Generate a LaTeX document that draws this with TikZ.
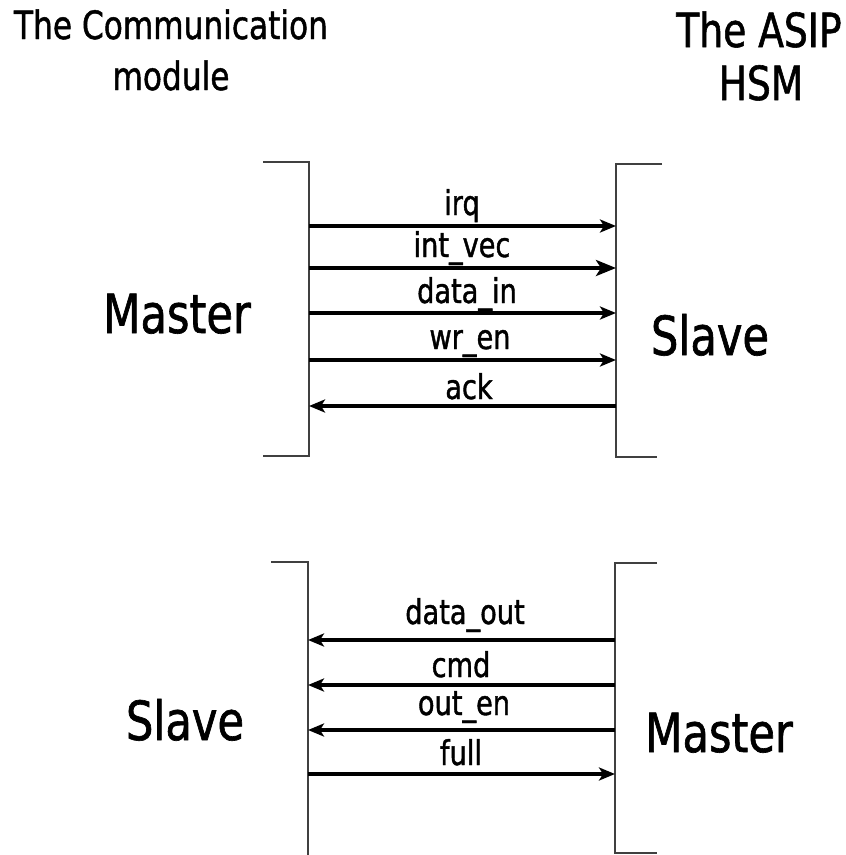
\documentclass[tikz,border=0pt]{standalone}
\usepackage{fontspec}
\setmainfont{DejaVu Sans}[FakeStretch=0.8, FakeBold=1.2]
\usetikzlibrary{arrows.meta}
\begin{document}
\begin{tikzpicture}[x=1pt, y=-1pt,
  txt/.style={inner sep=0pt, anchor=base},
  title/.style={txt, font=\fontsize{39}{42}\selectfont},
  titleb/.style={txt, font=\fontsize{47}{50}\selectfont},
  role/.style={txt, font=\fontsize{54}{58}\selectfont},
  sig/.style={txt, font=\fontsize{34}{38}\selectfont},
  bracket/.style={draw=black!75, line width=1.6pt},
  wire/.style={draw=black, line width=3.2pt, -{Stealth[length=16pt, width=13pt, inset=4pt]}},
  wirebold/.style={draw=black, line width=4.2pt, -{Stealth[length=20pt, width=16pt, inset=5pt]}}]
\useasboundingbox (0,0) rectangle (846,855);

% column titles
\node[title]  (tl1) at (171,39)  {The Communication};
\node[title]  (tl2) at (171,90)  {module};
\node[titleb] (tr1) at (759,47)  {The ASIP};
\node[titleb] (tr2) at (761,100) {HSM};

% ---- upper interface: communication module is master ----
\coordinate (a1) at (263,162); \coordinate (a2) at (309,162);
\coordinate (a3) at (309,456); \coordinate (a4) at (263,456);
\coordinate (b1) at (662,164); \coordinate (b2) at (616,164);
\coordinate (b3) at (616,457); \coordinate (b4) at (657,457);
\draw[bracket] (a1) -- (a2) -- (a3) -- (a4);
\draw[bracket] (b1) -- (b2) -- (b3) -- (b4);

\node[role] (m1) at (177,333) {Master};
\node[role] (s1) at (710,355) {Slave};

\foreach \n/\y in {irq/226, ivec/268, din/313, wren/360, ack/406}{
  \coordinate (L\n) at (309,\y);
  \coordinate (R\n) at (616,\y);
}
\draw[wire]     (Lirq)  -- (Rirq);
\draw[wirebold] (Livec) -- (Rivec);
\draw[wire]     (Ldin)  -- (Rdin);
\draw[wire]     (Lwren) -- (Rwren);
\draw[wire]     (Rack)  -- (Lack);

\node[sig] (tirq)  at (462,215) {irq};
\node[sig] (tivec) at (462,257) {int\_vec};
\node[sig] (tdin)  at (467,303) {data\_in};
\node[sig] (twren) at (470,349) {wr\_en};
\node[sig] (tack)  at (469,399) {ack};

% ---- lower interface: ASIP HSM is master ----
\coordinate (c1) at (271,562); \coordinate (c2) at (308,562);
\coordinate (c3) at (308,855);
\coordinate (d1) at (657,563); \coordinate (d2) at (615,563);
\coordinate (d3) at (615,853); \coordinate (d4) at (657,853);
\draw[bracket] (c1) -- (c2) -- (c3);
\draw[bracket] (d1) -- (d2) -- (d3) -- (d4);

\node[role] (s2) at (185,740) {Slave};
\node[role] (m2) at (719,752) {Master};

\foreach \n/\y in {dout/640, cmd/685, oen/730, full/774}{
  \coordinate (P\n) at (308,\y);
  \coordinate (Q\n) at (615,\y);
}
\draw[wire] (Qdout) -- (Pdout);
\draw[wire] (Qcmd)  -- (Pcmd);
\draw[wire] (Qoen)  -- (Poen);
\draw[wire] (Pfull) -- (Qfull);

\node[sig] (tdout) at (465,624) {data\_out};
\node[sig] (tcmd)  at (461,677) {cmd};
\node[sig] (toen)  at (464,715) {out\_en};
\node[sig] (tfull) at (461,765) {full};
\end{tikzpicture}
\end{document}
